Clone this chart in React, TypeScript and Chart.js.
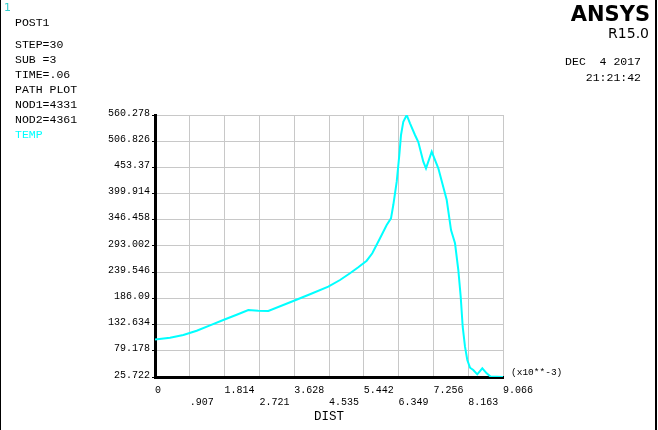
import React, { useEffect, useRef } from "react";
import { Chart, registerables } from "chart.js";

Chart.register(...registerables);

// ---- data (DIST in 1e-3 units, TEMP) ----
const distX = [0, 0.391, 0.738, 1.086, 1.433, 1.779, 2.128, 2.431, 2.691, 2.952, 3.603, 4.038, 4.515, 4.82, 5.08, 5.296, 5.515, 5.661, 5.862, 6.036, 6.148, 6.208, 6.297, 6.365, 6.409, 6.469, 6.557, 6.643, 6.773, 6.86, 6.99, 7.06, 7.209, 7.381, 7.6, 7.712, 7.816, 7.902, 7.964, 8.016, 8.076, 8.136, 8.206, 8.292, 8.396, 8.527, 8.641, 8.746, 8.902, 9.066];
const tempY = [102.2, 105.9, 111.4, 120.2, 131.2, 142.0, 152.8, 162.4, 161.0, 160.4, 180.8, 194.5, 210.0, 223.6, 237.3, 249.5, 263.0, 278.1, 308.7, 335.8, 349.5, 376.6, 424.2, 478.7, 519.5, 546.6, 560.278, 543.3, 519.5, 505.0, 465.0, 451.5, 485.4, 451.5, 386.8, 325.6, 298.5, 244.0, 189.6, 128.3, 87.5, 60.4, 44.7, 40.0, 31.2, 43.5, 33.3, 26.3, 26.3, 25.722];

const xTickValues = [0, 0.9066, 1.8132, 2.7198, 3.6264, 4.533, 5.4396, 6.3462, 7.2528, 8.1594, 9.066];
const xTickLabels = ["0", ".907", "1.814", "2.721", "3.628", "4.535", "5.442", "6.349", "7.256", "8.163", "9.066"];
const yTickValues = [25.722, 79.178, 132.634, 186.09, 239.546, 293.002, 346.458, 399.914, 453.37, 506.826, 560.278];
const yTickLabels = ["25.722", "79.178", "132.634", "186.09", "239.546", "293.002", "346.458", "399.914", "453.37", "506.826", "560.278"];

const infoLines = ["POST1", "STEP=30", "SUB =3", "TIME=.06", "PATH PLOT", "NOD1=4331", "NOD2=4361"];
const seriesName = "TEMP";
const windowNo = "1";
const brand = "ANSYS";
const version = "R15.0";
const dateText = "DEC  4 2017";
const timeText = "21:21:42";
const xUnitText = "(x10**-3)";
const xTitle = "DIST";

const CYAN = "#00ffff";
const MONO = "'Liberation Mono', 'DejaVu Sans Mono', monospace";

const annotations = {
  id: "ansysText",
  afterDraw(chart: any) {
    const ctx = chart.ctx as CanvasRenderingContext2D;
    const W = chart.width;
    ctx.save();
    // frame sides
    ctx.fillStyle = "#000";
    ctx.fillRect(0, 0, 1, chart.height);
    ctx.fillRect(W - 3, 0, 2, chart.height);

    ctx.textBaseline = "middle";
    ctx.textAlign = "left";
    ctx.fillStyle = "#33cccc";
    ctx.font = `11px 'DejaVu Sans', sans-serif`;
    ctx.fillText(windowNo, 4, 8);

    ctx.font = `11.5px ${MONO}`;
    ctx.fillStyle = "#000";
    const ys = [23, 45, 60, 75, 90, 105, 120];
    infoLines.forEach((t, i) => ctx.fillText(t, 15, ys[i]));
    ctx.fillStyle = CYAN;
    ctx.fillText(seriesName, 15, 135);

    ctx.textAlign = "right";
    ctx.fillStyle = "#000";
    ctx.font = `bold 21px 'DejaVu Sans', sans-serif`;
    ctx.textBaseline = "alphabetic";
    ctx.fillText(brand, 650, 21);
    ctx.font = `14px 'DejaVu Sans', sans-serif`;
    ctx.fillText(version, 649, 38);
    ctx.textBaseline = "middle";
    ctx.font = `11.5px ${MONO}`;
    ctx.fillText(dateText, 641, 62);
    ctx.fillText(timeText, 641, 78);

    ctx.textAlign = "left";
    ctx.font = `9.5px ${MONO}`;
    ctx.fillText(xUnitText, 511, 372);
    ctx.restore();
  },
};

export default function App() {
  const ref = useRef<HTMLCanvasElement>(null);
  useEffect(() => {
    const canvas = ref.current!;
    const chart = new Chart(canvas, {
      type: "line",
      data: {
        datasets: [
          {
            label: seriesName,
            data: distX.map((x, i) => ({ x, y: tempY[i] })),
            borderColor: CYAN,
            borderWidth: 2,
            pointRadius: 0,
            tension: 0,
            fill: false,
          },
        ],
      },
      options: {
        animation: false,
        responsive: false,
        devicePixelRatio: 1,
        layout: { padding: { top: 115, right: 155, left: 0, bottom: 0 } },
        plugins: { legend: { display: false }, tooltip: { enabled: false } },
        scales: {
          x: {
            type: "linear",
            min: 0,
            max: 9.066,
            afterBuildTicks: (s: any) => {
              s.ticks = xTickValues.map((v) => ({ value: v }));
            },
            afterFit: (s: any) => {
              s.height = 53;
            },
            ticks: {
              autoSkip: false,
              maxRotation: 0,
              align: "start",
              padding: 7,
              color: "#000",
              font: { family: MONO, size: 10 },
              callback: (_v: any, i: number) => (i % 2 === 0 ? [xTickLabels[i]] : ["", xTickLabels[i]]),
            },
            grid: { color: "#c8c8c8", lineWidth: 1, drawTicks: false },
            border: { color: "#000", width: 3 },
            title: {
              display: true,
              text: xTitle,
              color: "#000",
              font: { family: MONO, size: 12.5 },
              padding: { top: 0, bottom: 6 },
            },
          },
          y: {
            type: "linear",
            min: 25.722,
            max: 560.278,
            afterBuildTicks: (s: any) => {
              s.ticks = yTickValues.map((v) => ({ value: v }));
            },
            afterFit: (s: any) => {
              s.width = 155;
            },
            ticks: {
              autoSkip: false,
              padding: 2,
              labelOffset: -2,
              color: "#000",
              font: { family: MONO, size: 10 },
              callback: (_v: any, i: number) => yTickLabels[i],
            },
            grid: { color: "#c8c8c8", lineWidth: 1, tickLength: 3, tickColor: "#000" },
            border: { color: "#000", width: 3 },
          },
        },
      },
      plugins: [annotations],
    });
    return () => chart.destroy();
  }, []);
  return (
    <div style={{ position: "absolute", left: 0, top: 0, width: 658, height: 430, background: "#fff" }}>
      <canvas ref={ref} width={658} height={430} />
    </div>
  );
}
